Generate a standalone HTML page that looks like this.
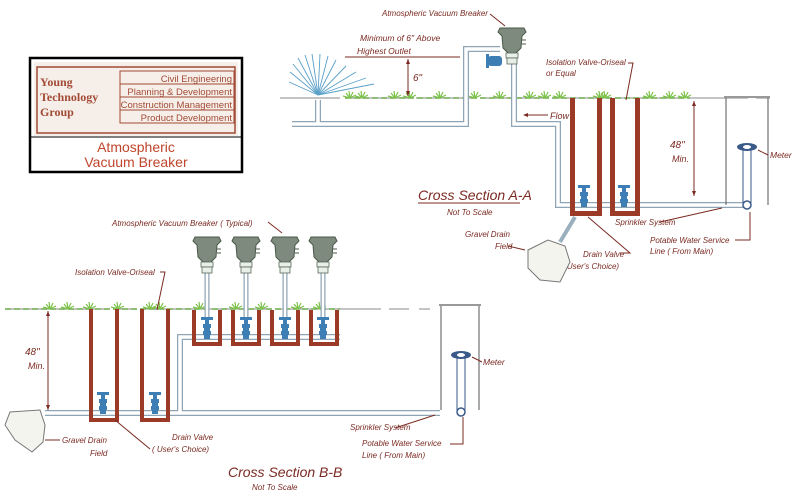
<!DOCTYPE html>
<html><head><meta charset="utf-8"><style>
html,body{margin:0;padding:0;background:#fff;}
svg{display:block;}
text{font-family:"Liberation Sans",sans-serif;font-style:italic;fill:#7a2a22;}
</style></head><body>
<svg width="800" height="500" viewBox="0 0 800 500" xmlns="http://www.w3.org/2000/svg">
<defs>
<g id="avb">
<path d="M-12,0 L12,0 L14,4 L10,8 L9,20 L4,25 L-4,25 L-9,20 L-10,8 L-14,4 Z" fill="#7d8a7d" stroke="#4a5a4a" stroke-width="1"/>
<rect x="-6" y="25" width="12" height="5" fill="#e8eee8" stroke="#5a6a5a" stroke-width="0.8"/>
<rect x="-5" y="30" width="10" height="6" fill="#e8eee8" stroke="#5a6a5a" stroke-width="0.8"/>
<line x1="10" y1="12" x2="14" y2="12" stroke="#4a5a4a"/><line x1="10" y1="16" x2="14" y2="16" stroke="#4a5a4a"/>
</g>
<g id="valve">
<rect x="-6" y="0" width="12" height="3" fill="#3d7fb5"/>
<rect x="-2" y="3" width="4" height="4" fill="#3d7fb5"/>
<rect x="-4" y="7" width="8" height="4" fill="#3d7fb5"/>
<rect x="-3" y="11" width="6" height="3" fill="#3d7fb5"/>
<rect x="-4" y="14" width="8" height="4" fill="#3d7fb5"/>
<rect x="-3" y="18" width="6" height="4" fill="#3d7fb5"/>
</g>
<g id="grass">
<path d="M0,0 l-4,-5 M0,0 l-1,-7 M0,0 l3,-6 M0,0 l6,-3 M0,0 l-7,-2" stroke="#7cc24a" stroke-width="1.2" fill="none"/>
</g>
</defs>

<!-- Logo -->
<rect x="30" y="58" width="212" height="114" fill="#fff" stroke="#000" stroke-width="2.5"/>
<rect x="34" y="62" width="204" height="74" fill="#f6efe9"/>
<line x1="30" y1="137" x2="242" y2="137" stroke="#000" stroke-width="1"/>
<rect x="37" y="67" width="198" height="66" fill="none" stroke="#a24a35" stroke-width="1.5"/>
<rect x="120" y="71" width="114" height="52" fill="none" stroke="#a24a35" stroke-width="1"/>
<line x1="120" y1="84" x2="234" y2="84" stroke="#a24a35"/><line x1="120" y1="97" x2="234" y2="97" stroke="#a24a35"/><line x1="120" y1="110" x2="234" y2="110" stroke="#a24a35"/>
<text x="40" y="86" style="font-family:'Liberation Serif',serif;font-style:normal;font-weight:bold;font-size:12px;fill:#a24a35">Young</text>
<text x="40" y="101" style="font-family:'Liberation Serif',serif;font-style:normal;font-weight:bold;font-size:12px;fill:#a24a35">Technology</text>
<text x="40" y="116" style="font-family:'Liberation Serif',serif;font-style:normal;font-weight:bold;font-size:12px;fill:#a24a35">Group</text>
<g style="font-family:'Liberation Serif',serif;font-size:9.5px" text-anchor="end">
<text x="232" y="82" style="font-style:normal;fill:#a24a35">Civil Engineering</text>
<text x="232" y="95" style="font-style:normal;fill:#a24a35">Planning &amp; Development</text>
<text x="232" y="108" style="font-style:normal;fill:#a24a35">Construction Management</text>
<text x="232" y="121" style="font-style:normal;fill:#a24a35">Product Development</text>
</g>
<text x="136" y="152" text-anchor="middle" style="font-style:normal;font-size:14px;fill:#c0452c">Atmospheric</text>
<text x="136" y="167" text-anchor="middle" style="font-style:normal;font-size:14px;fill:#c0452c">Vacuum Breaker</text>

<!-- ===== Section A-A ===== -->
<line x1="280" y1="98" x2="770" y2="98" stroke="#888" stroke-width="1" stroke-dasharray="60,8"/>
<line x1="345" y1="98" x2="690" y2="98" stroke="#6aa84a" stroke-width="1.5" stroke-dasharray="6,3"/>
<g>
<use href="#grass" x="350" y="98"/><use href="#grass" x="362" y="98"/><use href="#grass" x="395" y="98"/><use href="#grass" x="410" y="98"/><use href="#grass" x="440" y="98"/><use href="#grass" x="475" y="98"/><use href="#grass" x="500" y="98"/><use href="#grass" x="530" y="98"/><use href="#grass" x="545" y="98"/><use href="#grass" x="560" y="98"/><use href="#grass" x="600" y="98"/><use href="#grass" x="605" y="98"/><use href="#grass" x="650" y="98"/><use href="#grass" x="670" y="98"/><use href="#grass" x="685" y="98"/>
</g>
<!-- sprinkler spray -->
<g stroke="#5aa0c8" stroke-width="0.9">
<line x1="318" y1="95" x2="290" y2="72"/><line x1="318" y1="95" x2="293" y2="64"/><line x1="318" y1="95" x2="298" y2="58"/><line x1="318" y1="95" x2="305" y2="55"/><line x1="318" y1="95" x2="312" y2="54"/><line x1="318" y1="95" x2="320" y2="54"/><line x1="318" y1="95" x2="328" y2="56"/><line x1="318" y1="95" x2="336" y2="60"/><line x1="318" y1="95" x2="346" y2="66"/><line x1="318" y1="95" x2="356" y2="72"/><line x1="318" y1="95" x2="366" y2="78"/><line x1="318" y1="95" x2="374" y2="84"/><line x1="318" y1="95" x2="289" y2="82"/>
</g>
<!-- pipes A -->
<g fill="none" stroke="#8fa5b5" stroke-width="6">
<path d="M292,124 H466 V49 H500"/>
<path d="M318,100 V124"/>
<path d="M514,60 V124 H558 V205 H748"/>
</g>
<g fill="none" stroke="#fff" stroke-width="3.5">
<path d="M292,124 H466 V49 H500"/>
<path d="M318,100 V124"/>
<path d="M514,60 V124 H558 V205 H748"/>
</g>
<use href="#avb" x="512" y="28"/>
<g fill="#3d7fb5"><rect x="488" y="56" width="14" height="10" rx="3"/><rect x="486" y="54" width="3" height="14"/></g>
<!-- 6" dim -->
<line x1="345" y1="57" x2="460" y2="57" stroke="#7a2a22"/>
<line x1="408" y1="59" x2="408" y2="96" stroke="#7a2a22"/>
<path d="M408,59 l-2,5 h4z M408,96 l-2,-5 h4z" fill="#7a2a22"/>
<text x="413" y="81" font-size="10">6"</text>
<text x="360" y="41" font-size="8.5">Minimum of 6" Above</text>
<text x="357" y="54" font-size="8.5">Highest Outlet</text>
<text x="382" y="16" font-size="8">Atmospheric Vacuum Breaker</text>
<line x1="490" y1="14" x2="505" y2="26" stroke="#7a2a22"/>
<!-- flow -->
<line x1="525" y1="115" x2="548" y2="115" stroke="#7a2a22"/><path d="M523,115 l5,-2 v4z" fill="#7a2a22"/>
<text x="550" y="119" font-size="9">Flow</text>
<!-- pits A -->
<g fill="#9b3a26">
<rect x="570" y="98" width="5" height="117"/><rect x="597" y="98" width="5" height="117"/><rect x="570" y="211" width="32" height="5"/>
<rect x="610" y="98" width="5" height="117"/><rect x="635" y="98" width="5" height="117"/><rect x="610" y="211" width="30" height="5"/>
</g>
<use href="#valve" x="584" y="185"/>
<use href="#valve" x="624" y="185"/>
<text x="546" y="65" font-size="8">Isolation Valve-Oriseal</text>
<text x="546" y="76" font-size="8">or Equal</text>
<path d="M628,63 H633 L626,100" stroke="#7a2a22" fill="none"/>
<!-- 48 dim A -->
<line x1="694" y1="101" x2="694" y2="196" stroke="#7a2a22"/>
<path d="M694,101 l-2,5 h4z M694,196 l-2,-5 h4z" fill="#7a2a22"/>
<text x="670" y="148" font-size="10">48"</text>
<text x="672" y="162" font-size="9">Min.</text>
<!-- meter A -->
<line x1="726" y1="97" x2="726" y2="205" stroke="#555"/><line x1="768" y1="97" x2="768" y2="205" stroke="#555"/>
<line x1="724" y1="97" x2="770" y2="97" stroke="#999" stroke-width="2"/>
<rect x="743" y="148" width="8" height="55" fill="#fff" stroke="#3a5a8a"/>
<ellipse cx="747" cy="147" rx="10" ry="4" fill="#3a5a8a"/><ellipse cx="747" cy="147" rx="4" ry="2" fill="#fff"/>
<circle cx="747" cy="205" r="4" fill="#fff" stroke="#3a5a8a" stroke-width="1.5"/>
<line x1="758" y1="150" x2="768" y2="155" stroke="#7a2a22"/>
<text x="770" y="158" font-size="8.5">Meter</text>
<!-- labels A -->
<text x="418" y="200" font-size="14">Cross Section A-A</text>
<line x1="418" y1="203" x2="520" y2="203" stroke="#7a2a22"/>
<text x="447" y="215" font-size="8">Not To Scale</text>
<text x="615" y="225" font-size="8">Sprinkler System</text>
<line x1="660" y1="222" x2="722" y2="208" stroke="#7a2a22"/>
<text x="650" y="243" font-size="8">Potable Water Service</text>
<text x="650" y="254" font-size="8">Line ( From Main)</text>
<path d="M735,240 H750 V212" stroke="#7a2a22" fill="none"/>
<text x="465" y="237" font-size="8">Gravel Drain</text>
<text x="495" y="249" font-size="8">Field</text>
<path d="M508,246 L525,250" stroke="#7a2a22"/>
<text x="583" y="257" font-size="8">Drain Valve</text>
<text x="562" y="269" font-size="8">( User's Choice)</text>
<path d="M620,253 H630 L588,217" stroke="#7a2a22" fill="none"/>
<path d="M575,217 L560,242" stroke="#9bb0bf" stroke-width="4"/>
<path d="M528,250 L548,240 L565,246 L570,262 L560,282 L540,280 L528,268 Z" fill="#f4f4ee" stroke="#777"/>

<!-- ===== Section B-B ===== -->
<line x1="5" y1="309" x2="430" y2="309" stroke="#888" stroke-width="1" stroke-dasharray="100,8,20,10"/>
<line x1="5" y1="309" x2="340" y2="309" stroke="#6aa84a" stroke-width="1.5" stroke-dasharray="6,3"/>
<g>
<use href="#grass" x="50" y="309"/><use href="#grass" x="68" y="309"/><use href="#grass" x="90" y="309"/><use href="#grass" x="118" y="309"/><use href="#grass" x="150" y="309"/><use href="#grass" x="160" y="309"/><use href="#grass" x="200" y="309"/><use href="#grass" x="236" y="309"/><use href="#grass" x="262" y="309"/><use href="#grass" x="298" y="309"/><use href="#grass" x="320" y="309"/>
</g>
<!-- AVBs B -->
<g fill="none" stroke="#8fa5b5" stroke-width="5">
<line x1="207" y1="272" x2="207" y2="320"/><line x1="246" y1="272" x2="246" y2="320"/><line x1="285" y1="272" x2="285" y2="320"/><line x1="323" y1="272" x2="323" y2="320"/>
</g>
<g fill="none" stroke="#fff" stroke-width="2.5">
<line x1="207" y1="272" x2="207" y2="320"/><line x1="246" y1="272" x2="246" y2="320"/><line x1="285" y1="272" x2="285" y2="320"/><line x1="323" y1="272" x2="323" y2="320"/>
</g>
<use href="#avb" x="207" y="237"/><use href="#avb" x="246" y="237"/><use href="#avb" x="285" y="237"/><use href="#avb" x="323" y="237"/>
<text x="112" y="226" font-size="8">Atmospheric Vacuum Breaker ( Typical)</text>
<line x1="268" y1="222" x2="282" y2="233" stroke="#7a2a22"/>
<!-- pipes B -->
<g fill="none" stroke="#8fa5b5" stroke-width="6">
<path d="M45,413 H440"/><path d="M180,413 V337 H340"/>
</g>
<g fill="none" stroke="#fff" stroke-width="3.5">
<path d="M45,413 H440"/><path d="M180,413 V337 H340"/>
</g>
<!-- pits -->
<g fill="#9b3a26">
<rect x="192" y="310" width="4" height="35"/><rect x="218" y="310" width="4" height="35"/><rect x="192" y="342" width="30" height="4"/>
<rect x="231" y="310" width="4" height="35"/><rect x="257" y="310" width="4" height="35"/><rect x="231" y="342" width="30" height="4"/>
<rect x="270" y="310" width="4" height="35"/><rect x="296" y="310" width="4" height="35"/><rect x="270" y="342" width="30" height="4"/>
<rect x="309" y="310" width="4" height="35"/><rect x="335" y="310" width="4" height="35"/><rect x="309" y="342" width="30" height="4"/>
<rect x="89" y="309" width="4" height="113"/><rect x="115" y="309" width="4" height="113"/><rect x="89" y="418" width="30" height="4"/>
<rect x="140" y="309" width="4" height="113"/><rect x="166" y="309" width="4" height="113"/><rect x="140" y="418" width="30" height="4"/>
</g>
<use href="#valve" x="207" y="317"/><use href="#valve" x="246" y="317"/><use href="#valve" x="285" y="317"/><use href="#valve" x="323" y="317"/>
<use href="#valve" x="103" y="392"/><use href="#valve" x="155" y="392"/>
<text x="75" y="275" font-size="8">Isolation Valve-Oriseal</text>
<path d="M160,272 H165 L157,310" stroke="#7a2a22" fill="none"/>
<!-- 48 dim B -->
<line x1="48" y1="311" x2="48" y2="410" stroke="#7a2a22"/>
<path d="M48,311 l-2,5 h4z M48,410 l-2,-5 h4z" fill="#7a2a22"/>
<text x="25" y="355" font-size="10">48"</text>
<text x="28" y="369" font-size="9">Min.</text>
<!-- meter B -->
<line x1="441" y1="305" x2="441" y2="410" stroke="#555"/><line x1="479" y1="305" x2="479" y2="410" stroke="#555"/>
<line x1="439" y1="305" x2="481" y2="305" stroke="#999" stroke-width="2"/>
<rect x="457" y="356" width="8" height="55" fill="#fff" stroke="#3a5a8a"/>
<ellipse cx="461" cy="355" rx="10" ry="4" fill="#3a5a8a"/><ellipse cx="461" cy="355" rx="4" ry="2" fill="#fff"/>
<circle cx="461" cy="412" r="4" fill="#fff" stroke="#3a5a8a" stroke-width="1.5"/>
<line x1="472" y1="357" x2="482" y2="362" stroke="#7a2a22"/>
<text x="483" y="365" font-size="8.5">Meter</text>
<!-- gravel B -->
<path d="M10,412 L40,410 L45,425 L43,442 L32,452 L15,440 L5,425 Z" fill="#f4f4ee" stroke="#777"/>
<text x="62" y="443" font-size="8">Gravel Drain</text>
<text x="90" y="456" font-size="8">Field</text>
<line x1="45" y1="440" x2="60" y2="440" stroke="#7a2a22"/>
<text x="172" y="440" font-size="8">Drain Valve</text>
<text x="152" y="452" font-size="8">( User's Choice)</text>
<line x1="150" y1="449" x2="115" y2="420" stroke="#7a2a22"/>
<text x="350" y="430" font-size="8">Sprinkler System</text>
<line x1="395" y1="428" x2="435" y2="415" stroke="#7a2a22"/>
<text x="362" y="446" font-size="8">Potable Water Service</text>
<text x="362" y="458" font-size="8">Line ( From Main)</text>
<path d="M450,444 H463 V417" stroke="#7a2a22" fill="none"/>
<text x="228" y="477" font-size="14">Cross Section B-B</text>
<text x="252" y="490" font-size="8">Not To Scale</text>
</svg>
</body></html>
